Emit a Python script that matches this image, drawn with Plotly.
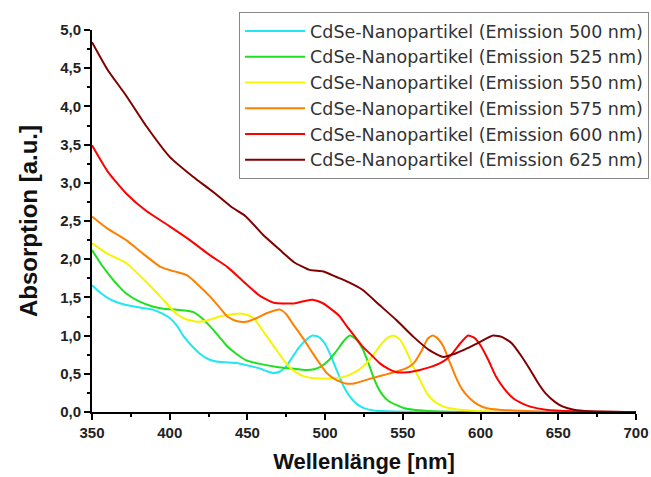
import plotly.graph_objects as go

# Wavelength (nm) and absorption (a.u.)
wl_500 = [350, 356, 362, 367, 372, 380, 389, 395, 400, 405, 409, 414, 419, 425, 430, 436, 443, 450, 458, 463, 467, 471, 475, 479, 483, 488, 492, 496, 500, 504, 508, 512, 516, 520, 525, 531, 540, 560, 700]
ab_500 = [1.66, 1.55, 1.47, 1.43, 1.40, 1.37, 1.34, 1.29, 1.23, 1.12, 0.99, 0.87, 0.77, 0.69, 0.66, 0.65, 0.64, 0.61, 0.57, 0.53, 0.51, 0.53, 0.60, 0.72, 0.84, 0.95, 1.00, 0.98, 0.89, 0.72, 0.52, 0.33, 0.20, 0.11, 0.05, 0.02, 0.01, 0.0, 0.0]

wl_525 = [350, 356, 362, 367, 372, 380, 389, 396, 404, 410, 415, 420, 426, 432, 437, 443, 449, 458, 469, 478, 488, 493, 497, 502, 507, 512, 516, 520, 524, 528, 531, 534, 537, 541, 546, 551, 557, 570, 600, 700]
ab_525 = [2.12, 1.93, 1.77, 1.65, 1.55, 1.45, 1.38, 1.35, 1.34, 1.33, 1.31, 1.24, 1.12, 0.98, 0.86, 0.76, 0.68, 0.63, 0.59, 0.57, 0.55, 0.56, 0.59, 0.67, 0.79, 0.93, 1.00, 0.95, 0.83, 0.63, 0.46, 0.32, 0.22, 0.14, 0.09, 0.05, 0.03, 0.01, 0.0, 0.0]

wl_550 = [350, 360, 372, 383, 394, 404, 411, 419, 426, 432, 440, 445, 450, 454, 460, 467, 473, 479, 486, 494, 503, 512, 518, 524, 530, 535, 540, 544, 548, 552, 556, 561, 565, 569, 575, 580, 593, 620, 700]
ab_550 = [2.21, 2.07, 1.95, 1.74, 1.51, 1.29, 1.21, 1.18, 1.21, 1.25, 1.28, 1.29, 1.27, 1.23, 1.06, 0.86, 0.69, 0.55, 0.47, 0.44, 0.44, 0.46, 0.51, 0.59, 0.72, 0.86, 0.97, 1.00, 0.95, 0.81, 0.62, 0.42, 0.26, 0.16, 0.08, 0.05, 0.02, 0.0, 0.0]

wl_575 = [350, 360, 372, 383, 394, 403, 411, 418, 426, 432, 437, 443, 449, 456, 462, 471, 475, 479, 486, 492, 497, 501, 507, 514, 520, 528, 537, 546, 552, 557, 562, 566, 569, 572, 576, 580, 584, 588, 593, 598, 604, 612, 621, 650, 700]
ab_575 = [2.56, 2.40, 2.25, 2.07, 1.90, 1.84, 1.79, 1.67, 1.51, 1.37, 1.25, 1.19, 1.18, 1.23, 1.29, 1.34, 1.28, 1.16, 0.96, 0.77, 0.62, 0.51, 0.42, 0.37, 0.38, 0.43, 0.48, 0.53, 0.57, 0.64, 0.80, 0.96, 1.00, 0.97, 0.86, 0.66, 0.46, 0.30, 0.18, 0.10, 0.05, 0.03, 0.02, 0.0, 0.0]

wl_600 = [350, 360, 372, 385, 400, 413, 426, 437, 449, 458, 467, 479, 486, 492, 498, 503, 509, 514, 519, 524, 530, 535, 541, 546, 553, 561, 568, 574, 578, 582, 587, 592, 596, 600, 605, 610, 615, 621, 627, 632, 642, 660, 700]
ab_600 = [3.49, 3.15, 2.86, 2.63, 2.43, 2.25, 2.05, 1.90, 1.68, 1.52, 1.43, 1.42, 1.45, 1.47, 1.43, 1.36, 1.26, 1.12, 0.99, 0.86, 0.74, 0.64, 0.56, 0.52, 0.52, 0.55, 0.59, 0.64, 0.69, 0.77, 0.90, 1.00, 0.97, 0.87, 0.68, 0.46, 0.31, 0.18, 0.11, 0.07, 0.03, 0.01, 0.0]

wl_625 = [350, 360, 372, 385, 400, 415, 428, 440, 449, 460, 471, 480, 490, 499, 507, 515, 524, 535, 546, 557, 567, 576, 583, 590, 600, 608, 614, 620, 626, 632, 637, 642, 648, 653, 660, 670, 700]
ab_625 = [4.84, 4.48, 4.14, 3.74, 3.34, 3.08, 2.88, 2.68, 2.56, 2.32, 2.12, 1.96, 1.86, 1.84, 1.77, 1.70, 1.60, 1.40, 1.20, 0.98, 0.81, 0.72, 0.76, 0.82, 0.92, 1.00, 0.98, 0.90, 0.74, 0.55, 0.38, 0.24, 0.13, 0.07, 0.03, 0.01, 0.0]

names = [
    "CdSe-Nanopartikel (Emission 500 nm)",
    "CdSe-Nanopartikel (Emission 525 nm)",
    "CdSe-Nanopartikel (Emission 550 nm)",
    "CdSe-Nanopartikel (Emission 575 nm)",
    "CdSe-Nanopartikel (Emission 600 nm)",
    "CdSe-Nanopartikel (Emission 625 nm)",
]
colors = ["#22e6f0", "#1ee01e", "#f5f500", "#ff8000", "#ff0000", "#800000"]
series = [(wl_500, ab_500), (wl_525, ab_525), (wl_550, ab_550),
          (wl_575, ab_575), (wl_600, ab_600), (wl_625, ab_625)]

fig = go.Figure()
for (x, y), n, c in zip(series, names, colors):
    fig.add_trace(go.Scatter(x=x, y=y, mode="lines", name=n,
                             line=dict(color=c, width=2, shape="spline", smoothing=0.5)))

axis_font = dict(family="Liberation Sans, Arial, sans-serif", size=15, color="#222", weight="bold")
fig.update_layout(
    width=651, height=477,
    margin=dict(l=92, r=15, t=30, b=65, autoexpand=False),
    paper_bgcolor="white", plot_bgcolor="white",
    separators=",.",
    font=dict(family="Liberation Sans, Arial, sans-serif"),
    showlegend=True,
    legend=dict(x=1.024, xanchor="right", y=1.047, yanchor="top",
                bgcolor="white", bordercolor="#888", borderwidth=1,
                font=dict(family="DejaVu Sans, sans-serif", size=17.5, color="#333"),
                tracegroupgap=0, itemwidth=60),
    xaxis=dict(range=[350, 700], dtick=50, tick0=350, showgrid=False, zeroline=False,
               showline=True, linecolor="black", linewidth=2,
               ticks="outside", ticklen=6, tickwidth=2, tickcolor="black",
               minor=dict(ticks="outside", ticklen=3, tickwidth=1.5, tickcolor="black", dtick=25),
               tickfont=axis_font,
               title=dict(text="Wellenlänge [nm]", standoff=14,
                          font=dict(size=22, color="#111", weight="bold"))),
    yaxis=dict(range=[0, 5], dtick=0.5, tickformat=".1f", showgrid=False, zeroline=False,
               showline=True, linecolor="black", linewidth=2,
               ticks="outside", ticklen=6, tickwidth=2, tickcolor="black",
               minor=dict(ticks="outside", ticklen=3, tickwidth=1.5, tickcolor="black", dtick=0.25),
               tickfont=axis_font,
               title=dict(text="Absorption [a.u.]", standoff=16,
                          font=dict(size=24, color="#111", weight="bold"))),
)

fig.write_html("out.html")
